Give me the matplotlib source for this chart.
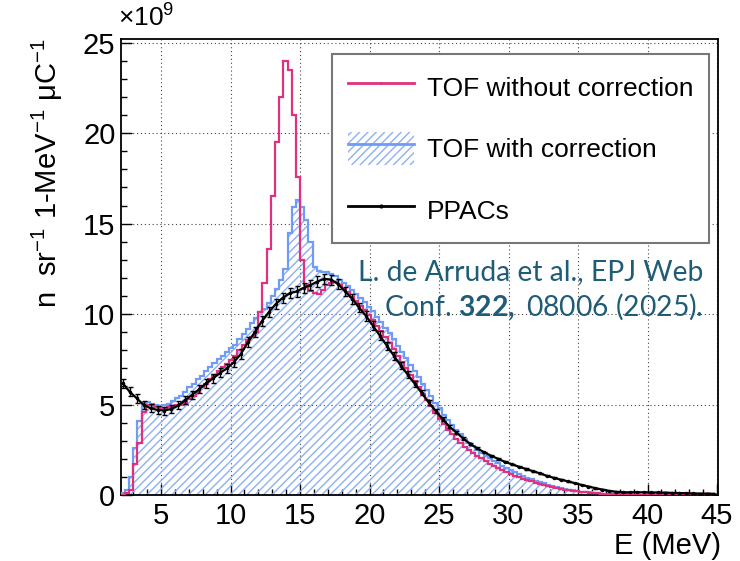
import numpy as np
import matplotlib
matplotlib.use("Agg")
import matplotlib.pyplot as plt
from matplotlib.lines import Line2D
from matplotlib.patches import Patch

plt.rcParams['font.family'] = ['Liberation Sans', 'DejaVu Sans']
plt.rcParams['mathtext.fontset'] = 'custom'
plt.rcParams['mathtext.rm'] = 'Liberation Sans'
plt.rcParams['mathtext.it'] = 'Liberation Sans:italic'
plt.rcParams['mathtext.bf'] = 'Lato:bold'
plt.rcParams['mathtext.default'] = 'regular'
plt.rcParams['hatch.linewidth'] = 1.0

# TOF spectra, 0.3 MeV bins starting at 2.1 MeV (units of 1e9)
tof_raw = [
    0.0, 0.1, 0.3, 1.7, 2.9, 4.6, 5.0, 4.95, 4.85, 4.8,
    4.8, 4.85, 4.9, 4.95, 5.0, 5.1, 5.3, 5.5, 5.7, 5.95,
    6.15, 6.4, 6.65, 6.85, 7.05, 7.25, 7.45, 7.7, 8.0, 8.3,
    8.55, 8.75, 9.0, 10.1, 11.7, 13.6, 16.5, 19.5, 22.0, 24.0,
    23.5, 21.0, 17.6, 13.0, 11.6, 11.3, 11.15, 11.1, 11.35, 11.6,
    11.7, 11.75, 11.6, 11.4, 11.2, 10.95, 10.7, 10.45, 10.2, 9.95,
    9.65, 9.35, 9.05, 8.75, 8.4, 8.05, 7.7, 7.35, 7.0, 6.65,
    6.3, 5.95, 5.6, 5.25, 4.9, 4.55, 4.2, 3.9, 3.62, 3.35,
    3.1, 2.88, 2.68, 2.5, 2.33, 2.17, 2.02, 1.88, 1.74, 1.62,
    1.5, 1.38, 1.27, 1.17, 1.07, 0.98, 0.9, 0.82, 0.75, 0.68,
    0.61, 0.55, 0.49, 0.44, 0.39, 0.34, 0.3, 0.27, 0.23, 0.2,
    0.17, 0.15, 0.13, 0.11, 0.09, 0.08, 0.07, 0.06, 0.05, 0.04,
    0.03, 0.03, 0.02, 0.02, 0.02, 0.015, 0.015, 0.01, 0.01, 0.01,
    0.01, 0.01, 0.005, 0.005, 0.005, 0.005, 0.005, 0.0, 0.0, 0.0,
    0.0, 0.0, 0.0]

tof_corr = [
    0.1, 0.3, 1.0, 2.6, 4.1, 5.1, 5.15, 5.05, 4.95, 4.9,
    4.95, 5.05, 5.2, 5.35, 5.5, 5.7, 5.95, 6.15, 6.4, 6.6,
    6.85, 7.05, 7.3, 7.5, 7.7, 7.9, 8.1, 8.3, 8.6, 8.9,
    9.2, 9.5, 9.8, 10.1, 10.3, 10.6, 11.0, 11.4, 11.9, 12.5,
    14.5, 15.9, 16.3, 15.9, 15.2, 14.0, 12.6, 12.4, 12.35, 12.3,
    12.2, 12.1, 11.9, 11.7, 11.55, 11.35, 11.1, 10.9, 10.65, 10.4,
    10.15, 9.85, 9.55, 9.25, 8.95, 8.6, 8.25, 7.9, 7.55, 7.2,
    6.85, 6.5, 6.15, 5.8, 5.45, 5.1, 4.8, 4.45, 4.15, 3.85,
    3.6, 3.35, 3.1, 2.88, 2.7, 2.5, 2.33, 2.17, 2.02, 1.88,
    1.75, 1.6, 1.48, 1.36, 1.25, 1.15, 1.05, 0.96, 0.88, 0.8,
    0.72, 0.64, 0.57, 0.5, 0.44, 0.39, 0.34, 0.3, 0.26, 0.22,
    0.19, 0.16, 0.14, 0.12, 0.1, 0.08, 0.07, 0.06, 0.05, 0.04,
    0.035, 0.03, 0.025, 0.02, 0.02, 0.02, 0.015, 0.015, 0.015, 0.01,
    0.01, 0.01, 0.01, 0.01, 0.01, 0.005, 0.005, 0.005, 0.005, 0.005,
    0.005, 0.0, 0.0]

# PPACs, 0.5 MeV bins starting at 2.0 MeV
ppac = [
    6.18, 5.7, 5.35, 4.98, 4.8, 4.7, 4.67, 4.76, 4.95, 5.25,
    5.55, 5.85, 6.18, 6.45, 6.75, 7.0, 7.35, 7.8, 8.45, 9.0,
    9.6, 10.1, 10.55, 10.9, 11.15, 11.25, 11.45, 11.6, 11.8, 11.95,
    11.9, 11.65, 11.25, 10.85, 10.35, 9.9, 9.35, 8.8, 8.25, 7.7,
    7.15, 6.65, 6.15, 5.65, 5.12, 4.65, 4.2, 3.78, 3.45, 3.12,
    2.82, 2.58, 2.36, 2.17, 2.0, 1.83, 1.7, 1.56, 1.44, 1.32,
    1.2, 1.06, 0.95, 0.85, 0.76, 0.66, 0.56, 0.47, 0.38, 0.3,
    0.23, 0.18, 0.15, 0.15, 0.15, 0.15, 0.14, 0.14, 0.13, 0.12,
    0.11, 0.1, 0.09, 0.08, 0.08, 0.07]
ppac_err = [
    0.25, 0.25, 0.25, 0.22, 0.22, 0.22, 0.22, 0.22, 0.22, 0.22,
    0.22, 0.22, 0.24, 0.24, 0.25, 0.25, 0.26, 0.26, 0.27, 0.27,
    0.28, 0.28, 0.28, 0.28, 0.28, 0.28, 0.28, 0.28, 0.28, 0.28,
    0.28, 0.28, 0.27, 0.27, 0.26, 0.26, 0.25, 0.24, 0.23, 0.22,
    0.2, 0.18, 0.16, 0.14, 0.12, 0.1, 0.09, 0.08, 0.07, 0.06,
    0.05, 0.05, 0.04, 0.04, 0.04, 0.03, 0.03, 0.03, 0.03, 0.03,
    0.02, 0.02, 0.02, 0.02, 0.02, 0.02, 0.02, 0.02, 0.02, 0.02,
    0.01, 0.01, 0.01, 0.01, 0.01, 0.01, 0.01, 0.01, 0.01, 0.01,
    0.01, 0.01, 0.01, 0.01, 0.01, 0.01]

labels = ["TOF without correction", "TOF with correction", "PPACs"]

pink = '#e0307f'
blue = '#6f9cf6'
hatch_c = '#8cb0f5'
teal = '#1f5c78'

edges = np.round(2.1 + 0.3 * np.arange(len(tof_raw) + 1), 3)
ppac_x = 2.25 + 0.5 * np.arange(len(ppac))

fig = plt.figure(figsize=(7.4, 5.61), dpi=100)
ax = fig.add_axes([0.1635, 0.1176, 0.8068, 0.8128])

ax.stairs(tof_corr, edges, fill=True, hatch='////', facecolor='none',
          edgecolor=hatch_c, linewidth=0, zorder=2)
ax.stairs(tof_corr, edges, color=blue, lw=1.6, zorder=3)
ax.stairs(tof_raw, edges, color=pink, lw=1.6, zorder=4)
ax.plot(ppac_x, ppac, color='k', lw=1.6, zorder=5)
ax.errorbar(ppac_x, ppac, yerr=ppac_err, fmt='.', color='k', ms=3,
            elinewidth=1.0, capsize=1.8, zorder=6)

ax.set_xlim(2.12, 45.07)
ax.set_ylim(0, 25.2)
ax.set_xticks(np.arange(5, 46, 5))
ax.set_xticks(np.arange(3, 46, 1), minor=True)
ax.set_yticks(np.arange(0, 26, 5))
ax.set_yticks(np.arange(0, 26, 1), minor=True)
ax.tick_params(which='both', direction='in', labelsize=21, width=1.0)
ax.tick_params(which='major', length=8)
ax.tick_params(which='minor', length=4.5)
ax.tick_params(axis='x', pad=5)
ax.tick_params(axis='y', pad=4)
ax.grid(True, which='major', color='#444444', linestyle=(0, (1, 2.5)), lw=0.8)
ax.set_axisbelow(True)
for s in ax.spines.values():
    s.set_linewidth(1.3)

h_raw = Line2D([], [], color=pink, lw=2, marker='.', ms=2)
h_corr = (Patch(facecolor='none', edgecolor=hatch_c, hatch='////', lw=0),
          Line2D([], [], color=blue, lw=2))
h_ppac = Line2D([], [], color='k', lw=2, marker='.', ms=4)
leg = ax.legend([h_raw, h_corr, h_ppac], labels, loc='upper left',
                bbox_to_anchor=(0.353, 0.555, 0.632, 0.412), mode='expand',
                borderaxespad=0, fontsize=19, handlelength=2.5, handleheight=1.6,
                labelspacing=1.05, handletextpad=0.5, borderpad=0.6,
                frameon=True, fancybox=False, edgecolor='#777777', framealpha=1)
leg.get_frame().set_linewidth(1.5)

fig.text(703 / 740, 1 - 259 / 561,
         "L. de Arruda et al., EPJ Web\nConf. $\\mathbf{322,}$ 08006 (2025).",
         ha='right', va='top', multialignment='right', family='Lato',
         size=20.3, color=teal, linespacing=1.25)

fig.text(118 / 740, 1 - 18 / 561, '×10$^{9}$', size=19, ha='left', va='center')
fig.text(47 / 740, 1 - 38 / 561, 'n  sr$^{-1}$ 1-MeV$^{-1}$ μC$^{-1}$',
         rotation=90, ha='center', va='top', size=21)
fig.text(721 / 740, 1 - 546 / 561, 'E (MeV)', ha='right', va='center', size=21)

fig.savefig('out.png', dpi=100)
